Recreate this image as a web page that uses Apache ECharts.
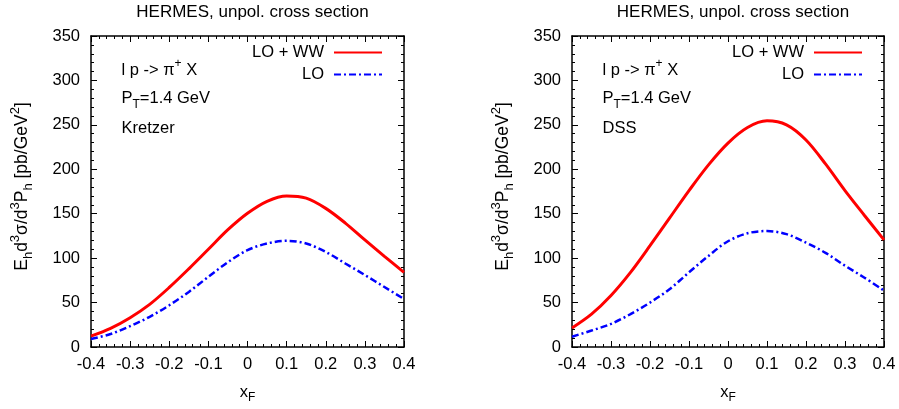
<!DOCTYPE html>
<html>
<head>
<meta charset="utf-8">
<script src="https://cdn.jsdelivr.net/npm/echarts@6/dist/echarts.min.js"></script>
<style>html,body{margin:0;padding:0;background:#fff}#c{width:899px;height:409px}</style>
</head>
<body>
<div id="c"></div>
<script>
const xF = [-0.4,-0.35,-0.3,-0.25,-0.2,-0.15,-0.1,-0.05,0,0.05,0.1,0.15,0.2,0.25,0.3,0.35,0.4];
const kretzerLOWW = [12.3,21,33,48,67,88,110,132,150.5,164,170,167.5,156,139.5,120.5,102,84];
const kretzerLO = [9,14.6,23.5,34,47,62,79,95.5,109,116.5,119.5,116.5,107,94,81,67.5,54];
const dssLOWW = [21.5,37,58,84,114,145,176,205,229.5,247,254.5,250,233,206,176,148,120.5];
const dssLO = [11.6,18.5,26,37,50,65,84,102.5,119,128,130.5,127,117.5,106,91.5,78,63.5];
const xTicks = [-0.4,-0.3,-0.2,-0.1,0,0.1,0.2,0.3,0.4];
const yTicks = [0,50,100,150,200,250,300,350];
const panelTitles = ['HERMES, unpol. cross section','HERMES, unpol. cross section'];
const pdfLabels = ['Kretzer','DSS'];
const seriesNames = ['LO + WW','LO'];

const FONT = 'Liberation Sans, Arial, Helvetica, sans-serif';
const FS = 16.5;
const grids = [{left:91, top:36, width:313, height:312},{left:572, top:36, width:312, height:312}];

function pairs(ys){ return xF.map((x,i)=>[x, ys[i]]); }
function fmtX(v){ const r = Math.round(v*10)/10; return r === 0 ? '0' : r.toFixed(1); }

const xAxes = [], yAxes = [];
grids.forEach((g, gi) => {
  ['bottom','top'].forEach(pos => {
    xAxes.push({
      type:'value', gridIndex:gi, position:pos, min:xTicks[0], max:xTicks[xTicks.length-1], interval:0.1,
      axisLine:{show:true, onZero:false, lineStyle:{color:'#000', width:1.5}},
      axisTick:{show:true, inside:true, length:6, lineStyle:{color:'#000', width:1}},
      minorTick:{show:true, splitNumber:5, length:3, lineStyle:{color:'#000', width:1}},
      splitLine:{show:false},
      axisLabel:{show:pos==='bottom', margin:9, color:'#000', fontFamily:FONT, fontSize:FS, formatter:fmtX},
      name: pos==='bottom' ? '{m|x}{s|F}' : '',
      nameLocation:'middle', nameGap:33,
      nameTextStyle:{rich:{m:{fontFamily:FONT, fontSize:FS, color:'#000', lineHeight:24, verticalAlign:'middle'}, s:{fontFamily:FONT, fontSize:12, color:'#000', lineHeight:12, verticalAlign:'bottom'}}}
    });
  });
  ['left','right'].forEach(pos => {
    yAxes.push({
      type:'value', gridIndex:gi, position:pos, min:yTicks[0], max:yTicks[yTicks.length-1], interval:50,
      axisLine:{show:true, onZero:false, lineStyle:{color:'#000', width:1.5}},
      axisTick:{show:true, inside:true, length:6, lineStyle:{color:'#000', width:1}},
      minorTick:{show:true, splitNumber:5, length:3, lineStyle:{color:'#000', width:1}},
      splitLine:{show:false},
      axisLabel:{show:pos==='left', margin:11, color:'#000', fontFamily:FONT, fontSize:FS},
      name: pos==='left' ? '{m|E}{s|h}{m|d}{p|3}{m|σ/d}{p|3}{m|P}{s|h}{m| [pb/GeV}{p|2}{m|]}' : '',
      nameLocation:'middle', nameRotate:90, nameGap:56,
      nameTextStyle:{padding:[0,0,0,10], rich:{
        m:{fontFamily:FONT, fontSize:17.5, color:'#000', lineHeight:26, verticalAlign:'middle'},
        s:{fontFamily:FONT, fontSize:13, color:'#000', lineHeight:13, verticalAlign:'bottom'},
        p:{fontFamily:FONT, fontSize:13, color:'#000', lineHeight:15, verticalAlign:'top'}
      }}
    });
  });
});

const dataSets = [[kretzerLOWW, kretzerLO],[dssLOWW, dssLO]];
const series = [];
dataSets.forEach((ds, gi) => {
  series.push({
    type:'line', name:seriesNames[0], xAxisIndex:gi*2, yAxisIndex:gi*2, data:pairs(ds[0]),
    smooth:0.33, symbol:'none', lineStyle:{color:'#ff0000', width:3}, itemStyle:{color:'#ff0000'}
  });
  series.push({
    type:'line', name:seriesNames[1], xAxisIndex:gi*2, yAxisIndex:gi*2, data:pairs(ds[1]),
    smooth:0.33, symbol:'none', lineStyle:{color:'#0000ff', width:2.5, type:[7,3,2,3]}, itemStyle:{color:'#0000ff'}
  });
});

const legends = [516, 36].map(r => ({
  orient:'vertical', right:r, top:44, align:'right', itemWidth:48, itemHeight:14, itemGap:5, padding:0,
  data:seriesNames, selectedMode:false,
  itemStyle:{opacity:0, borderWidth:0},
  textStyle:{fontFamily:FONT, fontSize:FS, color:'#000', padding:[0,5,0,0]}
}));

const titles = grids.map((g, gi) => ({
  text: panelTitles[gi], left: g.left + g.width/2, textAlign:'center', top:-1,
  textStyle:{fontFamily:FONT, fontSize:17, fontWeight:'normal', color:'#000'}
}));

const richAnn = {
  m:{fontFamily:FONT, fontSize:FS, fill:'#000', lineHeight:24, verticalAlign:'middle'},
  s:{fontFamily:FONT, fontSize:12, fill:'#000', lineHeight:12, verticalAlign:'bottom'},
  p:{fontFamily:FONT, fontSize:12, fill:'#000', lineHeight:14, verticalAlign:'top'}
};
const graphics = [];
grids.forEach((g, gi) => {
  const x0 = g.left + 30.5;
  graphics.push({type:'text', left:x0, top:58, style:{text:'{m|l p -> π}{p|+}{m| X}', rich:richAnn}});
  graphics.push({type:'text', left:x0, top:90, style:{text:'{m|P}{s|T}{m|=1.4 GeV}', rich:richAnn}});
  graphics.push({type:'text', left:x0, top:120, style:{text:'{m|' + pdfLabels[gi] + '}', rich:richAnn}});
});

const chart = echarts.init(document.getElementById('c'), null, {renderer:'canvas'});
chart.setOption({
  backgroundColor:'#fff',
  animation:false,
  title:titles,
  legend:legends,
  grid:grids,
  xAxis:xAxes,
  yAxis:yAxes,
  series:series,
  graphic:graphics
});
</script>
</body>
</html>
